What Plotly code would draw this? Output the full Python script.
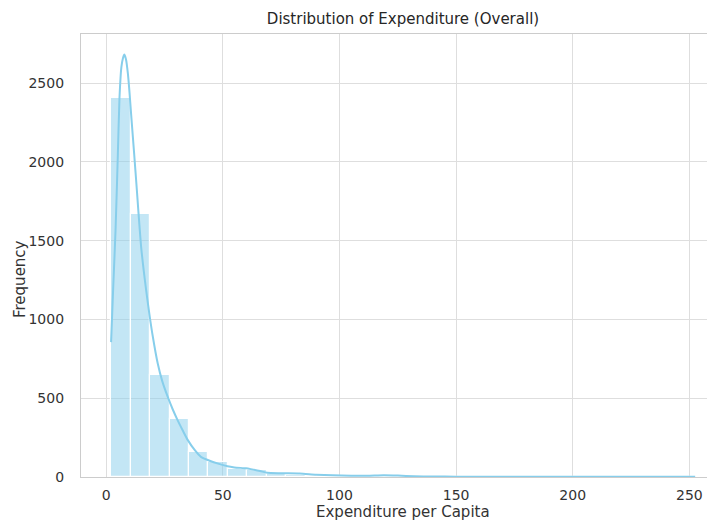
import plotly.graph_objects as go

# ---- data ----
bin_start = 2.1
bin_width = 8.35
counts = [2407, 1669, 646, 370, 158, 95, 53, 42, 21, 15, 9, 7, 5, 8, 11,
          4, 3, 2, 2, 1, 1, 1, 1, 1, 1, 0, 0, 1, 0, 1]

kde_x = [2.1, 3.0, 4.0, 5.0, 5.7, 6.5, 7.2, 7.8, 8.5, 9.3, 10.0, 10.7, 12.0,
         13.0, 15.0, 17.0, 18.5, 20.0, 22.1, 24.0, 26.4, 28.5, 30.6, 33.0,
         35.0, 38.0, 40.6, 44.9, 48.0, 52.0, 55.0, 60.0, 62.0, 66.0, 69.0,
         75.0, 83.0, 90.0, 97.0, 105.0, 112.0, 119.0, 125.0, 132.0, 140.0,
         150.0, 170.0, 200.0, 230.0, 252.5]
kde_y = [856, 1200, 1563, 2050, 2407, 2600, 2660, 2682, 2650, 2560, 2440, 2300,
         2050, 1850, 1458, 1200, 1036, 890, 720, 610, 508, 430, 361, 290, 234,
         170, 128, 100, 85, 68, 61, 55, 50, 38, 27, 24, 22, 15, 11, 8, 8, 11,
         9, 5, 3, 2, 2, 1, 1, 1]

x_ticks = [0, 50, 100, 150, 200, 250]
y_ticks = [0, 500, 1000, 1500, 2000, 2500]

title_text = "Distribution of Expenditure (Overall)"
x_label = "Expenditure per Capita"
y_label = "Frequency"

bin_centers = [bin_start + bin_width * (i + 0.5) for i in range(len(counts))]

FONT = "DejaVu Sans"
GRID = "#dedede"
FRAME = "#cccccc"

# the page body has an 8px margin, so the figure is offset by 8px
W, H = 707, 516
L, T = 73, 26
PH = 443
B = H - T - PH
PW = W - L

fig = go.Figure()
fig.add_trace(go.Bar(
    x=bin_centers, y=counts, width=bin_width,
    marker=dict(color="rgba(135,206,235,0.5)",
                line=dict(color="white", width=1.2)),
    showlegend=False, hoverinfo="skip"))
fig.add_trace(go.Scatter(
    x=kde_x, y=kde_y, mode="lines",
    line=dict(color="#87CEEB", width=2, shape="spline", smoothing=0.6),
    showlegend=False, hoverinfo="skip"))

fig.update_layout(
    width=W, height=H,
    margin=dict(l=L, r=0, t=T, b=B, pad=0),
    paper_bgcolor="white", plot_bgcolor="white",
    font=dict(family=FONT, size=14, color="#333333"),
    bargap=0,
    title=dict(text=title_text, x=395 / W, xanchor="center", y=1 - 10.5 / H,
               yanchor="middle", font=dict(family=FONT, size=15, color="#262626")),
    xaxis=dict(range=[-10.8, 261.0], tickvals=x_ticks, showgrid=True,
               gridcolor=GRID, gridwidth=1, zeroline=False,
               showline=True, linecolor=FRAME, linewidth=1.3, mirror=True,
               ticks="", ticklabelstandoff=5,
               tickfont=dict(family=FONT, size=14, color="#333333")),
    yaxis=dict(range=[0, 2812], tickvals=y_ticks, showgrid=True,
               gridcolor=GRID, gridwidth=1, zeroline=False,
               showline=True, linecolor=FRAME, linewidth=1.3, mirror=False,
               ticks="", ticklabelstandoff=13,
               tickfont=dict(family=FONT, size=14, color="#333333")),
    annotations=[
        dict(text=x_label, xref="paper", yref="paper", x=(395 - L) / PW,
             y=-(504 - (T + PH)) / PH, xanchor="center", yanchor="middle",
             showarrow=False, font=dict(family=FONT, size=15, color="#333333")),
        dict(text=y_label, xref="paper", yref="paper", x=-(L - 12) / PW,
             y=(T + PH - 271) / PH, xanchor="center", yanchor="middle",
             textangle=-90, showarrow=False,
             font=dict(family=FONT, size=15, color="#333333")),
    ],
)

fig.write_html("out.html")
